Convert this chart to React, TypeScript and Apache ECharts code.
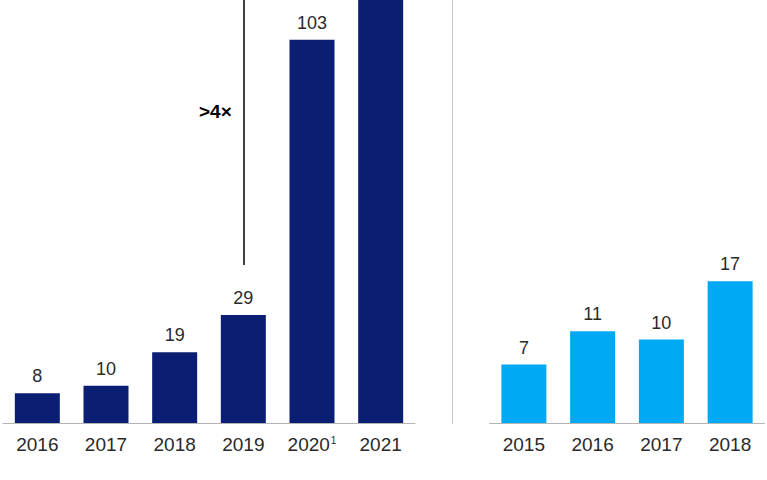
import React, { useEffect, useRef } from 'react';
import * as echarts from 'echarts';

// left panel: yearly values (2021 runs off the top of the picture)
const leftYears = ['2016', '2017', '2018', '2019', '2020¹', '2021'];
const leftValues = [8, 10, 19, 29, 103, 125];

// right panel
const rightYears = ['2015', '2016', '2017', '2018'];
const rightValues = [7, 11, 10, 17];

const NAVY = '#0a1f73';
const CYAN = '#00a9f4';
const TEXT = '#2a2a2a';
const FONT = '"Liberation Sans", Arial, sans-serif';

// "2020¹" -> year with a small raised footnote mark
const yearLabel = (v: string) => (v.endsWith('¹') ? `{y|${v.slice(0, -1)}}{s|1}` : `{y|${v}}`);

const App: React.FC = () => {
  const chartRef = useRef<HTMLDivElement>(null);

  useEffect(() => {
    if (!chartRef.current) return;
    const chart = echarts.init(chartRef.current, undefined, { renderer: 'svg' });

    const axisCommon = {
      type: 'category' as const,
      axisTick: { show: false },
      axisLine: { lineStyle: { color: '#b4b4b4', width: 1 } },
      axisLabel: {
        margin: 9,
        interval: 0,
        formatter: yearLabel,
        rich: {
          y: { color: TEXT, fontSize: 19, lineHeight: 24, fontFamily: FONT },
          s: {
            color: TEXT,
            fontSize: 10,
            lineHeight: 10,
            fontFamily: FONT,
            verticalAlign: 'top',
            padding: [3, 0, 11, 1]
          }
        }
      }
    };

    const labelCommon = {
      show: true,
      position: 'top' as const,
      distance: 8,
      color: TEXT,
      fontSize: 18,
      fontFamily: FONT
    };

    const option: any = {
      animation: false,
      textStyle: { fontFamily: FONT },
      grid: [
        { left: 3, top: 0, width: 412, height: 423 },
        { left: 489.5, top: 0, width: 275, height: 423 }
      ],
      xAxis: [
        { ...axisCommon, gridIndex: 0, data: leftYears },
        { ...axisCommon, gridIndex: 1, data: rightYears }
      ],
      yAxis: [
        { type: 'value', gridIndex: 0, min: 0, max: 113.7, show: false, splitLine: { show: false } },
        { type: 'value', gridIndex: 1, min: 0, max: 50.7, show: false, splitLine: { show: false } }
      ],
      series: [
        {
          type: 'bar',
          xAxisIndex: 0,
          yAxisIndex: 0,
          barWidth: 45,
          clip: true,
          itemStyle: { color: NAVY },
          label: labelCommon,
          data: leftValues.map((v, i) =>
            i === leftValues.length - 1 ? { value: v, label: { show: false } } : v
          ),
          markLine: {
            silent: true,
            symbol: 'none',
            label: { show: false },
            lineStyle: { color: '#000000', width: 1.5, type: 'solid' },
            data: [[{ coord: ['2019', 42.5] }, { coord: ['2019', 113.7] }]]
          }
        },
        {
          type: 'bar',
          xAxisIndex: 1,
          yAxisIndex: 1,
          barWidth: 45,
          itemStyle: { color: CYAN },
          label: labelCommon,
          data: rightValues
        }
      ],
      graphic: [
        {
          type: 'line',
          shape: { x1: 452.5, y1: 0, x2: 452.5, y2: 424 },
          style: { stroke: '#c8c8c8', lineWidth: 1 }
        },
        {
          type: 'text',
          left: 199,
          top: 102,
          style: {
            text: '>4×',
            fill: '#000000',
            font: `bold 19px ${FONT}`
          }
        }
      ]
    };

    chart.setOption(option);

    return () => {
      chart.dispose();
    };
  }, []);

  return (
    <div
      style={{ position: 'fixed', left: 0, top: 0, width: 767, height: 480, background: '#ffffff' }}
    >
      <div ref={chartRef} style={{ width: '100%', height: '100%' }} />
    </div>
  );
};

export default App;
